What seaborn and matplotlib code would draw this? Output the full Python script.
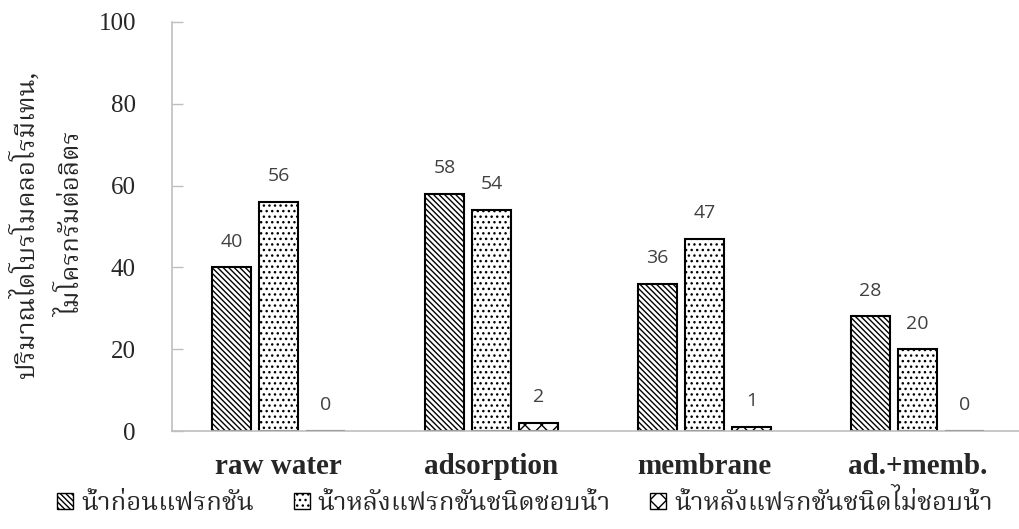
import numpy as np
import pandas as pd
import matplotlib
matplotlib.use("Agg")
import matplotlib.pyplot as plt
import seaborn as sns
from matplotlib import font_manager
from matplotlib.ft2font import FT2Font
from matplotlib.patches import Patch

# ---------------- data ----------------
categories = ["raw water", "adsorption", "membrane", "ad.+memb."]
series = ["น้ำก่อนแฟรกชัน", "น้ำหลังแฟรกชันชนิดชอบน้ำ", "น้ำหลังแฟรกชันชนิดไม่ชอบน้ำ"]
before_frac = [40, 58, 36, 28]
hydrophilic = [56, 54, 47, 20]
hydrophobic = [0, 2, 1, 0]
yticks = [0, 20, 40, 60, 80, 100]
ylabel_text = "ปริมาณไดโบรโมคลอโรมีเทน,\nไมโครกรัมต่อลิตร"

# ---------------- fonts ----------------
def find_thai_fonts():
    found = []
    for f in font_manager.findSystemFonts():
        try:
            cm = FT2Font(f).get_charmap()
        except Exception:
            continue
        if 0x0E19 in cm and 0x0E49 in cm:
            try:
                found.append(font_manager.FontProperties(fname=f).get_name())
            except Exception:
                pass
    return found

thai_found = find_thai_fonts()
pref = ["Noto Serif Thai", "Norasi", "Kinnari", "TH Sarabun New", "Laksaman",
        "Noto Sans Thai", "Garuda", "Loma", "Tlwg Typo"]
thai_font = None
for p in pref:
    if p in thai_found:
        thai_font = p
        break
if thai_font is None and thai_found:
    thai_font = thai_found[0]
thai_family = ([thai_font] if thai_font else []) + ["DejaVu Sans"]

sns.set_theme(style="white")
plt.rcParams["font.family"] = ["Liberation Serif", "DejaVu Serif"]
plt.rcParams["hatch.linewidth"] = 1.0

# ---------------- frame ----------------
df = pd.DataFrame({
    "category": categories * 3,
    "series": [series[0]] * 4 + [series[1]] * 4 + [series[2]] * 4,
    "value": before_frac + hydrophilic + hydrophobic,
})

fig = plt.figure(figsize=(10.19, 5.29), dpi=100)
ax = fig.add_axes([172 / 1019, (529 - 431) / 529, 852 / 1019, 409 / 529])

sns.barplot(data=df, x="category", y="value", hue="series", order=categories,
            hue_order=series, palette=["white"] * 3, width=0.662, gap=0.19,
            edgecolor="black", linewidth=1.5, ax=ax, legend=False)

hatches = ["\\\\\\\\\\\\", "...", "xx"]
for cont, h in zip(ax.containers, hatches):
    for bar in cont:
        bar.set_hatch(h)
        bar.set_edgecolor("black")
        bar.set_facecolor("white")
    ax.bar_label(cont, labels=[f"{v:.0f}" for v in cont.datavalues], padding=12,
                 color="#404040", fontsize=14, family=["Open Sans", "DejaVu Sans"])

ax.set_xlim(-0.5, 3.5)
ax.set_ylim(0, 100)
ax.set_yticks(yticks)
ax.set_yticklabels([str(t) for t in yticks], fontsize=18)
ax.tick_params(axis="y", direction="in", length=8, width=1, color="#bfbfbf", pad=26, left=True)
ax.tick_params(axis="x", length=0, pad=16)
for lab in ax.get_xticklabels():
    lab.set_fontweight("bold")
    lab.set_fontsize(21)
ax.set_xlabel("")
ax.set_ylabel("")
for s in ["top", "right"]:
    ax.spines[s].set_visible(False)
for s in ["left", "bottom"]:
    ax.spines[s].set_color("#bfbfbf")
    ax.spines[s].set_linewidth(1.2)
ax.grid(False)

fig.text(47.5 / 1019, 1 - 224 / 529, ylabel_text, rotation=90, ha="center", va="center",
         multialignment="center", fontsize=18.5, family=thai_family, linespacing=2.0)

handles = [Patch(facecolor="white", edgecolor="black", hatch=h, linewidth=1) for h in hatches]
fig.legend(handles, series, loc="center", bbox_to_anchor=(525 / 1019, 1 - 503 / 529), ncol=3,
           frameon=False, prop={"family": thai_family, "size": 18.5},
           handlelength=0.62, handleheight=0.62, handletextpad=0.3, columnspacing=1.55,
           borderpad=0, borderaxespad=0)

fig.savefig("out.png", dpi=100)
